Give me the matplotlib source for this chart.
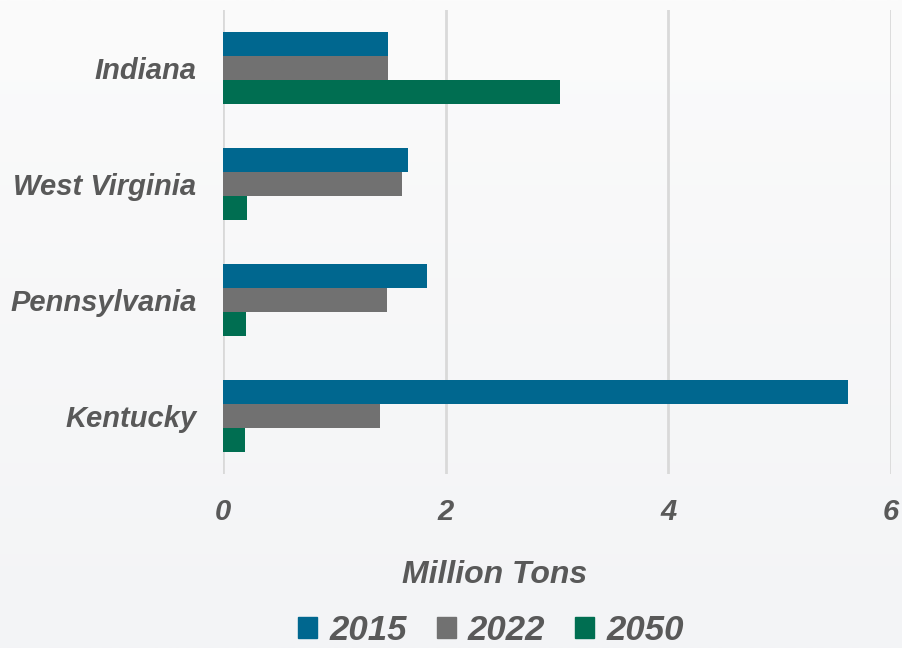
import numpy as np
import matplotlib

matplotlib.use("Agg")
import matplotlib.pyplot as plt
from matplotlib.patches import Patch

states = ["Indiana", "West Virginia", "Pennsylvania", "Kentucky"]
years = ["2015", "2022", "2050"]
values_2015 = [1.48, 1.66, 1.83, 5.61]
values_2022 = [1.48, 1.61, 1.47, 1.41]
values_2050 = [3.03, 0.22, 0.21, 0.20]
x_ticks = [0, 2, 4, 6]

colors = ["#00678f", "#717171", "#006e51"]
text_color = "#595959"
plt.rcParams["font.family"] = ["Liberation Sans", "DejaVu Sans"]

fig = plt.figure(figsize=(9.02, 6.48), dpi=100)

# soft vertical background gradient
bg = fig.add_axes([0, 0, 1, 1], zorder=-10)
grad = np.linspace(0, 1, 256).reshape(-1, 1)
bg.imshow(grad, aspect="auto", cmap=matplotlib.colors.LinearSegmentedColormap.from_list(
    "bg", ["#fbfbfb", "#f3f4f6"]), extent=[0, 1, 0, 1], origin="upper")
bg.axis("off")

ax = fig.add_axes([223 / 902, 1 - 474 / 648, (891 - 223) / 902, (474 - 10) / 648])
ax.patch.set_alpha(0)

h = 0.207
pos = np.arange(len(states))
for i, (vals, c) in enumerate(zip([values_2015, values_2022, values_2050], colors)):
    ax.barh(pos + (i - 1) * h, vals, height=h, color=c, zorder=3)

ax.set_ylim(len(states) - 0.5, -0.5)
ax.set_xlim(0, 6)
ax.set_yticks(pos)
ax.set_yticklabels(states)
ax.set_xticks(x_ticks)
ax.set_xticklabels([str(t) for t in x_ticks])
ax.grid(axis="x", color="#d9d9d9", linewidth=2, zorder=0)
for s in ax.spines.values():
    s.set_visible(False)
ax.tick_params(length=0, labelsize=21, labelcolor=text_color)
ax.tick_params(axis="x", pad=17)
ax.tick_params(axis="y", pad=19)
for lab in ax.get_xticklabels() + ax.get_yticklabels():
    lab.set_fontweight("bold")
    lab.set_fontstyle("italic")

fig.text(495 / 902, 1 - 575 / 648, "Million Tons", fontsize=23, fontweight="bold",
         fontstyle="italic", color=text_color, ha="center", va="center")

handles = [Patch(color=c, label=y) for c, y in zip(colors, years)]
fig.legend(handles=handles, loc="center", bbox_to_anchor=(491 / 902, 1 - 630 / 648), ncol=3,
           frameon=False, prop={"size": 25, "weight": "bold", "style": "italic"},
           labelcolor=text_color, handlelength=0.55, handleheight=0.55,
           handletextpad=0.35, columnspacing=0.85, borderpad=0)

fig.savefig("out.png", dpi=100)
